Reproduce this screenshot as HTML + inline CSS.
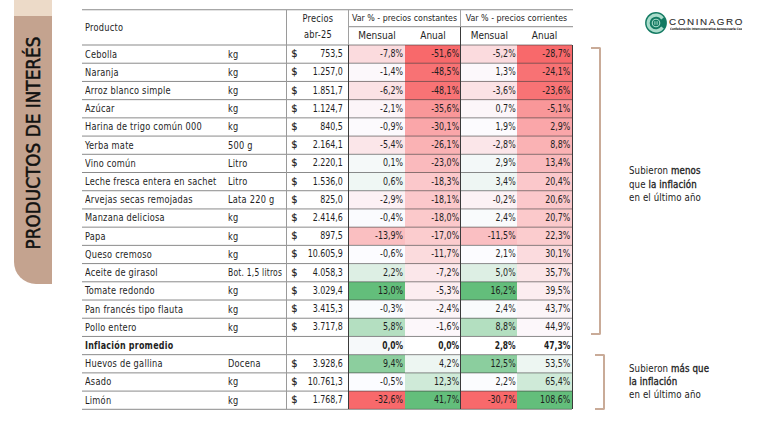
<!DOCTYPE html>
<html lang="es"><head><meta charset="utf-8"><title>Productos de interés</title>
<style>
*{margin:0;padding:0;box-sizing:border-box}
html,body{width:757px;height:426px;overflow:hidden;background:#fff}
body{position:relative;font-family:"DejaVu Sans Condensed", "DejaVu Sans", "Liberation Sans", sans-serif;font-stretch:condensed;color:#1e1e1e}
.a{position:absolute}
.t{position:absolute;white-space:nowrap;font-size:10.4px;line-height:18.215px;height:18.215px;letter-spacing:0.28px;transform:scaleX(0.88);transform-origin:0 50%}
.r{text-align:right}
.n{font-size:10.0px;letter-spacing:0;transform:scaleX(0.88);transform-origin:100% 50%}
.c{text-align:center;transform-origin:50% 50%}
.hl{position:absolute;height:1.6px;background:rgba(110,110,110,0.42)}
.vl{position:absolute;width:1.4px}
.b{font-weight:bold}
.sb{-webkit-text-stroke:0.3px #222}
</style></head><body>

<div class="a" style="left:14px;top:0;width:38px;height:16px;background:#ecdac8"></div>
<div class="a" style="left:14px;top:16px;width:38px;height:268px;background:#c4a38f;border-bottom-left-radius:22px"></div>
<div class="a" style="left:33.7px;top:142.8px;width:0;height:0"><div style="position:absolute;left:0;top:0;transform:translate(-50%,-50%) rotate(-90deg);font-size:18.8px;-webkit-text-stroke:0.5px #111;line-height:20px;white-space:nowrap;color:#111">PRODUCTOS DE INTERÉS</div></div>
<div class="a" style="left:348.50px;top:45.00px;width:56.00px;height:18.22px;background:#fbdbde"></div>
<div class="a" style="left:404.50px;top:45.00px;width:56.10px;height:18.22px;background:#f8696b"></div>
<div class="a" style="left:460.60px;top:45.00px;width:56.60px;height:18.22px;background:#fbdbde"></div>
<div class="a" style="left:517.20px;top:45.00px;width:55.20px;height:18.22px;background:#f8696b"></div>
<div class="a" style="left:348.50px;top:63.22px;width:56.00px;height:18.22px;background:#fcf8fb"></div>
<div class="a" style="left:404.50px;top:63.22px;width:56.10px;height:18.22px;background:#f87274"></div>
<div class="a" style="left:460.60px;top:63.22px;width:56.60px;height:18.22px;background:#fcf8fb"></div>
<div class="a" style="left:517.20px;top:63.22px;width:55.20px;height:18.22px;background:#f87274"></div>
<div class="a" style="left:348.50px;top:81.43px;width:56.00px;height:18.21px;background:#fbe2e5"></div>
<div class="a" style="left:404.50px;top:81.43px;width:56.10px;height:18.21px;background:#f87375"></div>
<div class="a" style="left:460.60px;top:81.43px;width:56.60px;height:18.21px;background:#fbe2e5"></div>
<div class="a" style="left:517.20px;top:81.43px;width:55.20px;height:18.21px;background:#f87375"></div>
<div class="a" style="left:348.50px;top:99.64px;width:56.00px;height:18.22px;background:#fcf5f8"></div>
<div class="a" style="left:404.50px;top:99.64px;width:56.10px;height:18.22px;background:#f99799"></div>
<div class="a" style="left:460.60px;top:99.64px;width:56.60px;height:18.22px;background:#fcf6f9"></div>
<div class="a" style="left:517.20px;top:99.64px;width:55.20px;height:18.22px;background:#f99799"></div>
<div class="a" style="left:348.50px;top:117.86px;width:56.00px;height:18.21px;background:#fcfafd"></div>
<div class="a" style="left:404.50px;top:117.86px;width:56.10px;height:18.21px;background:#faa6a9"></div>
<div class="a" style="left:460.60px;top:117.86px;width:56.60px;height:18.21px;background:#fcfbfe"></div>
<div class="a" style="left:517.20px;top:117.86px;width:55.20px;height:18.21px;background:#faa6a9"></div>
<div class="a" style="left:348.50px;top:136.07px;width:56.00px;height:18.22px;background:#fbe6e9"></div>
<div class="a" style="left:404.50px;top:136.07px;width:56.10px;height:18.22px;background:#fab2b4"></div>
<div class="a" style="left:460.60px;top:136.07px;width:56.60px;height:18.22px;background:#fbe6e9"></div>
<div class="a" style="left:517.20px;top:136.07px;width:55.20px;height:18.22px;background:#fab2b4"></div>
<div class="a" style="left:348.50px;top:154.29px;width:56.00px;height:18.22px;background:#f5f9f9"></div>
<div class="a" style="left:404.50px;top:154.29px;width:56.10px;height:18.22px;background:#fababd"></div>
<div class="a" style="left:460.60px;top:154.29px;width:56.60px;height:18.22px;background:#f3f8f8"></div>
<div class="a" style="left:517.20px;top:154.29px;width:55.20px;height:18.22px;background:#fababd"></div>
<div class="a" style="left:348.50px;top:172.50px;width:56.00px;height:18.22px;background:#eff7f4"></div>
<div class="a" style="left:404.50px;top:172.50px;width:56.10px;height:18.22px;background:#fbc8cb"></div>
<div class="a" style="left:460.60px;top:172.50px;width:56.60px;height:18.22px;background:#eef6f3"></div>
<div class="a" style="left:517.20px;top:172.50px;width:55.20px;height:18.22px;background:#fbc8cb"></div>
<div class="a" style="left:348.50px;top:190.72px;width:56.00px;height:18.22px;background:#fcf1f4"></div>
<div class="a" style="left:404.50px;top:190.72px;width:56.10px;height:18.22px;background:#fbc8cb"></div>
<div class="a" style="left:460.60px;top:190.72px;width:56.60px;height:18.22px;background:#fcf2f5"></div>
<div class="a" style="left:517.20px;top:190.72px;width:55.20px;height:18.22px;background:#fbc8cb"></div>
<div class="a" style="left:348.50px;top:208.94px;width:56.00px;height:18.22px;background:#fafbfe"></div>
<div class="a" style="left:404.50px;top:208.94px;width:56.10px;height:18.22px;background:#fbc9cb"></div>
<div class="a" style="left:460.60px;top:208.94px;width:56.60px;height:18.22px;background:#f9fbfc"></div>
<div class="a" style="left:517.20px;top:208.94px;width:55.20px;height:18.22px;background:#fbc9cb"></div>
<div class="a" style="left:348.50px;top:227.15px;width:56.00px;height:18.22px;background:#fabfc1"></div>
<div class="a" style="left:404.50px;top:227.15px;width:56.10px;height:18.22px;background:#fbccce"></div>
<div class="a" style="left:460.60px;top:227.15px;width:56.60px;height:18.22px;background:#fabfc2"></div>
<div class="a" style="left:517.20px;top:227.15px;width:55.20px;height:18.22px;background:#fbccce"></div>
<div class="a" style="left:348.50px;top:245.37px;width:56.00px;height:18.21px;background:#fcfcff"></div>
<div class="a" style="left:404.50px;top:245.37px;width:56.10px;height:18.21px;background:#fbdbdd"></div>
<div class="a" style="left:460.60px;top:245.37px;width:56.60px;height:18.21px;background:#fcfcff"></div>
<div class="a" style="left:517.20px;top:245.37px;width:55.20px;height:18.21px;background:#fbdbde"></div>
<div class="a" style="left:348.50px;top:263.58px;width:56.00px;height:18.21px;background:#ddefe4"></div>
<div class="a" style="left:404.50px;top:263.58px;width:56.10px;height:18.21px;background:#fbe7ea"></div>
<div class="a" style="left:460.60px;top:263.58px;width:56.60px;height:18.21px;background:#ddefe4"></div>
<div class="a" style="left:517.20px;top:263.58px;width:55.20px;height:18.21px;background:#fbe6e8"></div>
<div class="a" style="left:348.50px;top:281.79px;width:56.00px;height:18.22px;background:#63be7b"></div>
<div class="a" style="left:404.50px;top:281.79px;width:56.10px;height:18.22px;background:#fcedf0"></div>
<div class="a" style="left:460.60px;top:281.79px;width:56.60px;height:18.22px;background:#63be7b"></div>
<div class="a" style="left:517.20px;top:281.79px;width:55.20px;height:18.22px;background:#fcedf0"></div>
<div class="a" style="left:348.50px;top:300.01px;width:56.00px;height:18.22px;background:#f9fbfd"></div>
<div class="a" style="left:404.50px;top:300.01px;width:56.10px;height:18.22px;background:#fcf5f8"></div>
<div class="a" style="left:460.60px;top:300.01px;width:56.60px;height:18.22px;background:#f9fbfc"></div>
<div class="a" style="left:517.20px;top:300.01px;width:55.20px;height:18.22px;background:#fcf5f8"></div>
<div class="a" style="left:348.50px;top:318.23px;width:56.00px;height:18.21px;background:#b4dfc1"></div>
<div class="a" style="left:404.50px;top:318.23px;width:56.10px;height:18.21px;background:#fcf7fa"></div>
<div class="a" style="left:460.60px;top:318.23px;width:56.60px;height:18.21px;background:#b3dfc0"></div>
<div class="a" style="left:517.20px;top:318.23px;width:55.20px;height:18.21px;background:#fcf7fa"></div>
<div class="a" style="left:348.50px;top:336.44px;width:56.00px;height:18.21px;background:#f6f9fa"></div>
<div class="a" style="left:404.50px;top:336.44px;width:56.10px;height:18.21px;background:#ffffff"></div>
<div class="a" style="left:460.60px;top:336.44px;width:56.60px;height:18.21px;background:#ffffff"></div>
<div class="a" style="left:517.20px;top:336.44px;width:55.20px;height:18.21px;background:#ffffff"></div>
<div class="a" style="left:348.50px;top:354.65px;width:56.00px;height:18.22px;background:#8cce9e"></div>
<div class="a" style="left:404.50px;top:354.65px;width:56.10px;height:18.22px;background:#edf6f2"></div>
<div class="a" style="left:460.60px;top:354.65px;width:56.60px;height:18.22px;background:#8bce9e"></div>
<div class="a" style="left:517.20px;top:354.65px;width:55.20px;height:18.22px;background:#edf6f2"></div>
<div class="a" style="left:348.50px;top:372.87px;width:56.00px;height:18.21px;background:#fbfcff"></div>
<div class="a" style="left:404.50px;top:372.87px;width:56.10px;height:18.21px;background:#cfead8"></div>
<div class="a" style="left:460.60px;top:372.87px;width:56.60px;height:18.21px;background:#fbfcfe"></div>
<div class="a" style="left:517.20px;top:372.87px;width:55.20px;height:18.21px;background:#cfead8"></div>
<div class="a" style="left:348.50px;top:391.08px;width:56.00px;height:18.22px;background:#f8696b"></div>
<div class="a" style="left:404.50px;top:391.08px;width:56.10px;height:18.22px;background:#63be7b"></div>
<div class="a" style="left:460.60px;top:391.08px;width:56.60px;height:18.22px;background:#f8696b"></div>
<div class="a" style="left:517.20px;top:391.08px;width:55.20px;height:18.22px;background:#63be7b"></div>
<div class="a" style="left:82.0px;top:9px;width:490.9px;height:1px;background:rgba(60,60,60,0.450)"></div>
<div class="a" style="left:82.0px;top:10px;width:490.9px;height:1px;background:rgba(60,60,60,0.150)"></div>
<div class="a" style="left:348.5px;top:26px;width:224.4px;height:1px;background:rgba(60,60,60,0.480)"></div>
<div class="a" style="left:348.5px;top:27px;width:224.4px;height:1px;background:rgba(60,60,60,0.120)"></div>
<div class="a" style="left:82.0px;top:44px;width:490.4px;height:1px;background:rgba(60,60,60,0.300)"></div>
<div class="a" style="left:82.0px;top:45px;width:490.4px;height:1px;background:rgba(60,60,60,0.300)"></div>
<div class="a" style="left:82.0px;top:62px;width:490.4px;height:1px;background:rgba(60,60,60,0.171)"></div>
<div class="a" style="left:82.0px;top:63px;width:490.4px;height:1px;background:rgba(60,60,60,0.429)"></div>
<div class="a" style="left:82.0px;top:80px;width:490.4px;height:1px;background:rgba(60,60,60,0.042)"></div>
<div class="a" style="left:82.0px;top:81px;width:490.4px;height:1px;background:rgba(60,60,60,0.558)"></div>
<div class="a" style="left:82.0px;top:99px;width:490.4px;height:1px;background:rgba(60,60,60,0.513)"></div>
<div class="a" style="left:82.0px;top:100px;width:490.4px;height:1px;background:rgba(60,60,60,0.087)"></div>
<div class="a" style="left:82.0px;top:117px;width:490.4px;height:1px;background:rgba(60,60,60,0.384)"></div>
<div class="a" style="left:82.0px;top:118px;width:490.4px;height:1px;background:rgba(60,60,60,0.216)"></div>
<div class="a" style="left:82.0px;top:135px;width:490.4px;height:1px;background:rgba(60,60,60,0.255)"></div>
<div class="a" style="left:82.0px;top:136px;width:490.4px;height:1px;background:rgba(60,60,60,0.345)"></div>
<div class="a" style="left:82.0px;top:153px;width:490.4px;height:1px;background:rgba(60,60,60,0.126)"></div>
<div class="a" style="left:82.0px;top:154px;width:490.4px;height:1px;background:rgba(60,60,60,0.474)"></div>
<div class="a" style="left:82.0px;top:172px;width:490.4px;height:1px;background:rgba(60,60,60,0.597)"></div>
<div class="a" style="left:82.0px;top:190px;width:490.4px;height:1px;background:rgba(60,60,60,0.468)"></div>
<div class="a" style="left:82.0px;top:191px;width:490.4px;height:1px;background:rgba(60,60,60,0.132)"></div>
<div class="a" style="left:82.0px;top:208px;width:490.4px;height:1px;background:rgba(60,60,60,0.339)"></div>
<div class="a" style="left:82.0px;top:209px;width:490.4px;height:1px;background:rgba(60,60,60,0.261)"></div>
<div class="a" style="left:82.0px;top:226px;width:490.4px;height:1px;background:rgba(60,60,60,0.210)"></div>
<div class="a" style="left:82.0px;top:227px;width:490.4px;height:1px;background:rgba(60,60,60,0.390)"></div>
<div class="a" style="left:82.0px;top:244px;width:490.4px;height:1px;background:rgba(60,60,60,0.081)"></div>
<div class="a" style="left:82.0px;top:245px;width:490.4px;height:1px;background:rgba(60,60,60,0.519)"></div>
<div class="a" style="left:82.0px;top:263px;width:490.4px;height:1px;background:rgba(60,60,60,0.552)"></div>
<div class="a" style="left:82.0px;top:264px;width:490.4px;height:1px;background:rgba(60,60,60,0.048)"></div>
<div class="a" style="left:82.0px;top:281px;width:490.4px;height:1px;background:rgba(60,60,60,0.423)"></div>
<div class="a" style="left:82.0px;top:282px;width:490.4px;height:1px;background:rgba(60,60,60,0.177)"></div>
<div class="a" style="left:82.0px;top:299px;width:490.4px;height:1px;background:rgba(60,60,60,0.294)"></div>
<div class="a" style="left:82.0px;top:300px;width:490.4px;height:1px;background:rgba(60,60,60,0.306)"></div>
<div class="a" style="left:82.0px;top:317px;width:490.4px;height:1px;background:rgba(60,60,60,0.165)"></div>
<div class="a" style="left:82.0px;top:318px;width:490.4px;height:1px;background:rgba(60,60,60,0.435)"></div>
<div class="a" style="left:82.0px;top:335px;width:490.4px;height:1px;background:rgba(60,60,60,0.036)"></div>
<div class="a" style="left:82.0px;top:336px;width:490.4px;height:1px;background:rgba(60,60,60,0.564)"></div>
<div class="a" style="left:82.0px;top:354px;width:490.4px;height:1px;background:rgba(60,60,60,0.507)"></div>
<div class="a" style="left:82.0px;top:355px;width:490.4px;height:1px;background:rgba(60,60,60,0.093)"></div>
<div class="a" style="left:82.0px;top:372px;width:490.4px;height:1px;background:rgba(60,60,60,0.378)"></div>
<div class="a" style="left:82.0px;top:373px;width:490.4px;height:1px;background:rgba(60,60,60,0.222)"></div>
<div class="a" style="left:82.0px;top:390px;width:490.4px;height:1px;background:rgba(60,60,60,0.249)"></div>
<div class="a" style="left:82.0px;top:391px;width:490.4px;height:1px;background:rgba(60,60,60,0.351)"></div>
<div class="a" style="left:82.0px;top:408px;width:490.4px;height:1px;background:rgba(60,60,60,0.120)"></div>
<div class="a" style="left:82.0px;top:409px;width:490.4px;height:1px;background:rgba(60,60,60,0.480)"></div>
<div class="vl" style="left:286.0px;top:9.5px;height:399.8px;background:#9a9a9a"></div>
<div class="vl" style="left:347.8px;top:9.5px;height:35.5px;background:#a0a0a0"></div>
<div class="vl" style="left:347.8px;top:45.0px;height:364.3px;background:#3a3a3a"></div>
<div class="vl" style="left:459.9px;top:9.5px;height:17.0px;background:#a0a0a0"></div>
<div class="vl" style="left:459.9px;top:26.5px;height:382.8px;background:#3a3a3a"></div>
<div class="vl" style="left:571.7px;top:45.0px;height:364.3px;background:#3a3a3a"></div>
<div class="t" style="left:85.0px;top:17.60px;">Producto</div>
<div class="t c" style="left:286.7px;top:8.60px;width:61.8px;">Precios</div>
<div class="t c" style="left:286.7px;top:24.50px;width:61.8px;">abr-25</div>
<div class="t c" style="left:348.5px;top:9.00px;width:112.1px;font-size:8.8px;letter-spacing:0;transform:none">Var % - precios constantes</div>
<div class="t c" style="left:460.6px;top:9.00px;width:111.8px;font-size:8.8px;letter-spacing:0;transform:none">Var % - precios corrientes</div>
<div class="t c" style="left:348.5px;top:26.00px;width:56.0px;letter-spacing:0;transform:scaleX(0.96)">Mensual</div>
<div class="t c" style="left:404.5px;top:26.00px;width:56.1px;letter-spacing:0;transform:scaleX(0.96)">Anual</div>
<div class="t c" style="left:460.6px;top:26.00px;width:56.6px;letter-spacing:0;transform:scaleX(0.96)">Mensual</div>
<div class="t c" style="left:517.2px;top:26.00px;width:55.2px;letter-spacing:0;transform:scaleX(0.96)">Anual</div>
<div class="t" style="left:85.0px;top:44.50px;">Cebolla</div>
<div class="t" style="left:228.3px;top:44.50px;">kg</div>
<div class="t" style="left:291.2px;top:45.10px;font-size:11px;line-height:17.8px;letter-spacing:0;transform:none;-webkit-text-stroke:0.2px #1e1e1e">$</div>
<div class="t r n" style="left:300.0px;top:45.10px;width:42.9px;">753,5</div>
<div class="t r n" style="left:348.5px;top:45.10px;width:54.1px;">-7,8%</div>
<div class="t r n" style="left:404.5px;top:45.10px;width:54.2px;">-51,6%</div>
<div class="t r n" style="left:460.6px;top:45.10px;width:54.7px;">-5,2%</div>
<div class="t r n" style="left:517.2px;top:45.10px;width:53.3px;">-28,7%</div>
<div class="t" style="left:85.0px;top:62.72px;">Naranja</div>
<div class="t" style="left:228.3px;top:62.72px;">kg</div>
<div class="t" style="left:291.2px;top:63.32px;font-size:11px;line-height:17.8px;letter-spacing:0;transform:none;-webkit-text-stroke:0.2px #1e1e1e">$</div>
<div class="t r n" style="left:300.0px;top:63.32px;width:42.9px;">1.257,0</div>
<div class="t r n" style="left:348.5px;top:63.32px;width:54.1px;">-1,4%</div>
<div class="t r n" style="left:404.5px;top:63.32px;width:54.2px;">-48,5%</div>
<div class="t r n" style="left:460.6px;top:63.32px;width:54.7px;">1,3%</div>
<div class="t r n" style="left:517.2px;top:63.32px;width:53.3px;">-24,1%</div>
<div class="t" style="left:85.0px;top:80.93px;">Arroz blanco simple</div>
<div class="t" style="left:228.3px;top:80.93px;">kg</div>
<div class="t" style="left:291.2px;top:81.53px;font-size:11px;line-height:17.8px;letter-spacing:0;transform:none;-webkit-text-stroke:0.2px #1e1e1e">$</div>
<div class="t r n" style="left:300.0px;top:81.53px;width:42.9px;">1.851,7</div>
<div class="t r n" style="left:348.5px;top:81.53px;width:54.1px;">-6,2%</div>
<div class="t r n" style="left:404.5px;top:81.53px;width:54.2px;">-48,1%</div>
<div class="t r n" style="left:460.6px;top:81.53px;width:54.7px;">-3,6%</div>
<div class="t r n" style="left:517.2px;top:81.53px;width:53.3px;">-23,6%</div>
<div class="t" style="left:85.0px;top:99.14px;">Azúcar</div>
<div class="t" style="left:228.3px;top:99.14px;">kg</div>
<div class="t" style="left:291.2px;top:99.74px;font-size:11px;line-height:17.8px;letter-spacing:0;transform:none;-webkit-text-stroke:0.2px #1e1e1e">$</div>
<div class="t r n" style="left:300.0px;top:99.74px;width:42.9px;">1.124,7</div>
<div class="t r n" style="left:348.5px;top:99.74px;width:54.1px;">-2,1%</div>
<div class="t r n" style="left:404.5px;top:99.74px;width:54.2px;">-35,6%</div>
<div class="t r n" style="left:460.6px;top:99.74px;width:54.7px;">0,7%</div>
<div class="t r n" style="left:517.2px;top:99.74px;width:53.3px;">-5,1%</div>
<div class="t" style="left:85.0px;top:117.36px;">Harina de trigo común 000</div>
<div class="t" style="left:228.3px;top:117.36px;">kg</div>
<div class="t" style="left:291.2px;top:117.96px;font-size:11px;line-height:17.8px;letter-spacing:0;transform:none;-webkit-text-stroke:0.2px #1e1e1e">$</div>
<div class="t r n" style="left:300.0px;top:117.96px;width:42.9px;">840,5</div>
<div class="t r n" style="left:348.5px;top:117.96px;width:54.1px;">-0,9%</div>
<div class="t r n" style="left:404.5px;top:117.96px;width:54.2px;">-30,1%</div>
<div class="t r n" style="left:460.6px;top:117.96px;width:54.7px;">1,9%</div>
<div class="t r n" style="left:517.2px;top:117.96px;width:53.3px;">2,9%</div>
<div class="t" style="left:85.0px;top:135.57px;">Yerba mate</div>
<div class="t" style="left:228.3px;top:135.57px;">500 g</div>
<div class="t" style="left:291.2px;top:136.17px;font-size:11px;line-height:17.8px;letter-spacing:0;transform:none;-webkit-text-stroke:0.2px #1e1e1e">$</div>
<div class="t r n" style="left:300.0px;top:136.17px;width:42.9px;">2.164,1</div>
<div class="t r n" style="left:348.5px;top:136.17px;width:54.1px;">-5,4%</div>
<div class="t r n" style="left:404.5px;top:136.17px;width:54.2px;">-26,1%</div>
<div class="t r n" style="left:460.6px;top:136.17px;width:54.7px;">-2,8%</div>
<div class="t r n" style="left:517.2px;top:136.17px;width:53.3px;">8,8%</div>
<div class="t" style="left:85.0px;top:153.79px;">Vino común</div>
<div class="t" style="left:228.3px;top:153.79px;">Litro</div>
<div class="t" style="left:291.2px;top:154.39px;font-size:11px;line-height:17.8px;letter-spacing:0;transform:none;-webkit-text-stroke:0.2px #1e1e1e">$</div>
<div class="t r n" style="left:300.0px;top:154.39px;width:42.9px;">2.220,1</div>
<div class="t r n" style="left:348.5px;top:154.39px;width:54.1px;">0,1%</div>
<div class="t r n" style="left:404.5px;top:154.39px;width:54.2px;">-23,0%</div>
<div class="t r n" style="left:460.6px;top:154.39px;width:54.7px;">2,9%</div>
<div class="t r n" style="left:517.2px;top:154.39px;width:53.3px;">13,4%</div>
<div class="t" style="left:85.0px;top:172.00px;">Leche fresca entera en sachet</div>
<div class="t" style="left:228.3px;top:172.00px;">Litro</div>
<div class="t" style="left:291.2px;top:172.60px;font-size:11px;line-height:17.8px;letter-spacing:0;transform:none;-webkit-text-stroke:0.2px #1e1e1e">$</div>
<div class="t r n" style="left:300.0px;top:172.60px;width:42.9px;">1.536,0</div>
<div class="t r n" style="left:348.5px;top:172.60px;width:54.1px;">0,6%</div>
<div class="t r n" style="left:404.5px;top:172.60px;width:54.2px;">-18,3%</div>
<div class="t r n" style="left:460.6px;top:172.60px;width:54.7px;">3,4%</div>
<div class="t r n" style="left:517.2px;top:172.60px;width:53.3px;">20,4%</div>
<div class="t" style="left:85.0px;top:190.22px;">Arvejas secas remojadas</div>
<div class="t" style="left:228.3px;top:190.22px;">Lata 220 g</div>
<div class="t" style="left:291.2px;top:190.82px;font-size:11px;line-height:17.8px;letter-spacing:0;transform:none;-webkit-text-stroke:0.2px #1e1e1e">$</div>
<div class="t r n" style="left:300.0px;top:190.82px;width:42.9px;">825,0</div>
<div class="t r n" style="left:348.5px;top:190.82px;width:54.1px;">-2,9%</div>
<div class="t r n" style="left:404.5px;top:190.82px;width:54.2px;">-18,1%</div>
<div class="t r n" style="left:460.6px;top:190.82px;width:54.7px;">-0,2%</div>
<div class="t r n" style="left:517.2px;top:190.82px;width:53.3px;">20,6%</div>
<div class="t" style="left:85.0px;top:208.44px;">Manzana deliciosa</div>
<div class="t" style="left:228.3px;top:208.44px;">kg</div>
<div class="t" style="left:291.2px;top:209.03px;font-size:11px;line-height:17.8px;letter-spacing:0;transform:none;-webkit-text-stroke:0.2px #1e1e1e">$</div>
<div class="t r n" style="left:300.0px;top:209.03px;width:42.9px;">2.414,6</div>
<div class="t r n" style="left:348.5px;top:209.03px;width:54.1px;">-0,4%</div>
<div class="t r n" style="left:404.5px;top:209.03px;width:54.2px;">-18,0%</div>
<div class="t r n" style="left:460.6px;top:209.03px;width:54.7px;">2,4%</div>
<div class="t r n" style="left:517.2px;top:209.03px;width:53.3px;">20,7%</div>
<div class="t" style="left:85.0px;top:226.65px;">Papa</div>
<div class="t" style="left:228.3px;top:226.65px;">kg</div>
<div class="t" style="left:291.2px;top:227.25px;font-size:11px;line-height:17.8px;letter-spacing:0;transform:none;-webkit-text-stroke:0.2px #1e1e1e">$</div>
<div class="t r n" style="left:300.0px;top:227.25px;width:42.9px;">897,5</div>
<div class="t r n" style="left:348.5px;top:227.25px;width:54.1px;">-13,9%</div>
<div class="t r n" style="left:404.5px;top:227.25px;width:54.2px;">-17,0%</div>
<div class="t r n" style="left:460.6px;top:227.25px;width:54.7px;">-11,5%</div>
<div class="t r n" style="left:517.2px;top:227.25px;width:53.3px;">22,3%</div>
<div class="t" style="left:85.0px;top:244.87px;">Queso cremoso</div>
<div class="t" style="left:228.3px;top:244.87px;">kg</div>
<div class="t" style="left:291.2px;top:245.47px;font-size:11px;line-height:17.8px;letter-spacing:0;transform:none;-webkit-text-stroke:0.2px #1e1e1e">$</div>
<div class="t r n" style="left:300.0px;top:245.47px;width:42.9px;">10.605,9</div>
<div class="t r n" style="left:348.5px;top:245.47px;width:54.1px;">-0,6%</div>
<div class="t r n" style="left:404.5px;top:245.47px;width:54.2px;">-11,7%</div>
<div class="t r n" style="left:460.6px;top:245.47px;width:54.7px;">2,1%</div>
<div class="t r n" style="left:517.2px;top:245.47px;width:53.3px;">30,1%</div>
<div class="t" style="left:85.0px;top:263.08px;">Aceite de girasol</div>
<div class="t" style="left:228.3px;top:263.08px;transform:scaleX(0.81)">Bot. 1,5 litros</div>
<div class="t" style="left:291.2px;top:263.68px;font-size:11px;line-height:17.8px;letter-spacing:0;transform:none;-webkit-text-stroke:0.2px #1e1e1e">$</div>
<div class="t r n" style="left:300.0px;top:263.68px;width:42.9px;">4.058,3</div>
<div class="t r n" style="left:348.5px;top:263.68px;width:54.1px;">2,2%</div>
<div class="t r n" style="left:404.5px;top:263.68px;width:54.2px;">-7,2%</div>
<div class="t r n" style="left:460.6px;top:263.68px;width:54.7px;">5,0%</div>
<div class="t r n" style="left:517.2px;top:263.68px;width:53.3px;">35,7%</div>
<div class="t" style="left:85.0px;top:281.29px;">Tomate redondo</div>
<div class="t" style="left:228.3px;top:281.29px;">kg</div>
<div class="t" style="left:291.2px;top:281.89px;font-size:11px;line-height:17.8px;letter-spacing:0;transform:none;-webkit-text-stroke:0.2px #1e1e1e">$</div>
<div class="t r n" style="left:300.0px;top:281.89px;width:42.9px;">3.029,4</div>
<div class="t r n" style="left:348.5px;top:281.89px;width:54.1px;">13,0%</div>
<div class="t r n" style="left:404.5px;top:281.89px;width:54.2px;">-5,3%</div>
<div class="t r n" style="left:460.6px;top:281.89px;width:54.7px;">16,2%</div>
<div class="t r n" style="left:517.2px;top:281.89px;width:53.3px;">39,5%</div>
<div class="t" style="left:85.0px;top:299.51px;">Pan francés tipo flauta</div>
<div class="t" style="left:228.3px;top:299.51px;">kg</div>
<div class="t" style="left:291.2px;top:300.11px;font-size:11px;line-height:17.8px;letter-spacing:0;transform:none;-webkit-text-stroke:0.2px #1e1e1e">$</div>
<div class="t r n" style="left:300.0px;top:300.11px;width:42.9px;">3.415,3</div>
<div class="t r n" style="left:348.5px;top:300.11px;width:54.1px;">-0,3%</div>
<div class="t r n" style="left:404.5px;top:300.11px;width:54.2px;">-2,4%</div>
<div class="t r n" style="left:460.6px;top:300.11px;width:54.7px;">2,4%</div>
<div class="t r n" style="left:517.2px;top:300.11px;width:53.3px;">43,7%</div>
<div class="t" style="left:85.0px;top:317.73px;">Pollo entero</div>
<div class="t" style="left:228.3px;top:317.73px;">kg</div>
<div class="t" style="left:291.2px;top:318.33px;font-size:11px;line-height:17.8px;letter-spacing:0;transform:none;-webkit-text-stroke:0.2px #1e1e1e">$</div>
<div class="t r n" style="left:300.0px;top:318.33px;width:42.9px;">3.717,8</div>
<div class="t r n" style="left:348.5px;top:318.33px;width:54.1px;">5,8%</div>
<div class="t r n" style="left:404.5px;top:318.33px;width:54.2px;">-1,6%</div>
<div class="t r n" style="left:460.6px;top:318.33px;width:54.7px;">8,8%</div>
<div class="t r n" style="left:517.2px;top:318.33px;width:53.3px;">44,9%</div>
<div class="t b" style="left:85.0px;top:335.94px;transform:scaleX(0.85)">Inflación promedio</div>
<div class="t r n b" style="left:348.5px;top:336.54px;width:54.1px;transform:scaleX(0.84)">0,0%</div>
<div class="t r n b" style="left:404.5px;top:336.54px;width:54.2px;transform:scaleX(0.84)">0,0%</div>
<div class="t r n b" style="left:460.6px;top:336.54px;width:54.7px;transform:scaleX(0.84)">2,8%</div>
<div class="t r n b" style="left:517.2px;top:336.54px;width:53.3px;transform:scaleX(0.84)">47,3%</div>
<div class="t" style="left:85.0px;top:354.15px;">Huevos de gallina</div>
<div class="t" style="left:228.3px;top:354.15px;">Docena</div>
<div class="t" style="left:291.2px;top:354.75px;font-size:11px;line-height:17.8px;letter-spacing:0;transform:none;-webkit-text-stroke:0.2px #1e1e1e">$</div>
<div class="t r n" style="left:300.0px;top:354.75px;width:42.9px;">3.928,6</div>
<div class="t r n" style="left:348.5px;top:354.75px;width:54.1px;">9,4%</div>
<div class="t r n" style="left:404.5px;top:354.75px;width:54.2px;">4,2%</div>
<div class="t r n" style="left:460.6px;top:354.75px;width:54.7px;">12,5%</div>
<div class="t r n" style="left:517.2px;top:354.75px;width:53.3px;">53,5%</div>
<div class="t" style="left:85.0px;top:372.37px;">Asado</div>
<div class="t" style="left:228.3px;top:372.37px;">kg</div>
<div class="t" style="left:291.2px;top:372.97px;font-size:11px;line-height:17.8px;letter-spacing:0;transform:none;-webkit-text-stroke:0.2px #1e1e1e">$</div>
<div class="t r n" style="left:300.0px;top:372.97px;width:42.9px;">10.761,3</div>
<div class="t r n" style="left:348.5px;top:372.97px;width:54.1px;">-0,5%</div>
<div class="t r n" style="left:404.5px;top:372.97px;width:54.2px;">12,3%</div>
<div class="t r n" style="left:460.6px;top:372.97px;width:54.7px;">2,2%</div>
<div class="t r n" style="left:517.2px;top:372.97px;width:53.3px;">65,4%</div>
<div class="t" style="left:85.0px;top:390.58px;">Limón</div>
<div class="t" style="left:228.3px;top:390.58px;">kg</div>
<div class="t" style="left:291.2px;top:391.19px;font-size:11px;line-height:17.8px;letter-spacing:0;transform:none;-webkit-text-stroke:0.2px #1e1e1e">$</div>
<div class="t r n" style="left:300.0px;top:391.19px;width:42.9px;">1.768,7</div>
<div class="t r n" style="left:348.5px;top:391.19px;width:54.1px;">-32,6%</div>
<div class="t r n" style="left:404.5px;top:391.19px;width:54.2px;">41,7%</div>
<div class="t r n" style="left:460.6px;top:391.19px;width:54.7px;">-30,7%</div>
<div class="t r n" style="left:517.2px;top:391.19px;width:53.3px;">108,6%</div>
<div class="a" style="left:591px;top:46.5px;width:10px;height:288.5px;border:2px solid #c9ab98;border-left:none;border-radius:0 2px 2px 0"></div>
<div class="a" style="left:595px;top:354px;width:10px;height:56px;border:2px solid #c9ab98;border-left:none;border-radius:0 2px 2px 0"></div>
<div class="a" style="left:629px;top:164.2px;font-size:9.6px;line-height:13.4px;letter-spacing:0.12px;color:#222">Subieron <span class="sb">menos</span><br>que <span class="sb">la inflación</span><br>en el último año</div>
<div class="a" style="left:629px;top:361.5px;font-size:9.6px;line-height:13.1px;letter-spacing:0.12px;color:#222">Subieron <span class="sb">más que</span><br><span class="sb">la inflación</span><br>en el último año</div>
<svg class="a" style="left:645px;top:12px" width="22" height="22" viewBox="0 0 22 22">
<circle cx="11" cy="11" r="10.9" fill="#137a62"/>
<path d="M17.5 6.5 A7.9 7.9 0 1 0 17.5 15.5" fill="none" stroke="#a9dccb" stroke-width="3.1"/>
<circle cx="11" cy="11" r="4.3" fill="#a9dccb"/>
<circle cx="11" cy="11" r="3.2" fill="#137a62"/>
<rect x="9.4" y="9.2" width="1" height="3.6" fill="#a9dccb"/>
<rect x="11.6" y="9.2" width="1" height="3.6" fill="#a9dccb"/>
</svg>
<div class="a" style="left:669px;top:16px;font-family:'Liberation Sans',sans-serif;font-size:9.8px;line-height:11px;letter-spacing:1.62px;color:#2a2a2a;-webkit-text-stroke:0.1px #2a2a2a">CONINAGRO</div>
<div class="a" style="left:669.5px;top:27.3px;width:72px;height:3px;overflow:hidden"><div style="font-size:6px;line-height:6px;white-space:nowrap;transform:scale(0.5);transform-origin:0 0;color:#333;letter-spacing:0.2px;-webkit-text-stroke:0.4px #333">Confederación Intercooperativa Agropecuaria Cooperativa Limitada</div></div>
</body></html>
